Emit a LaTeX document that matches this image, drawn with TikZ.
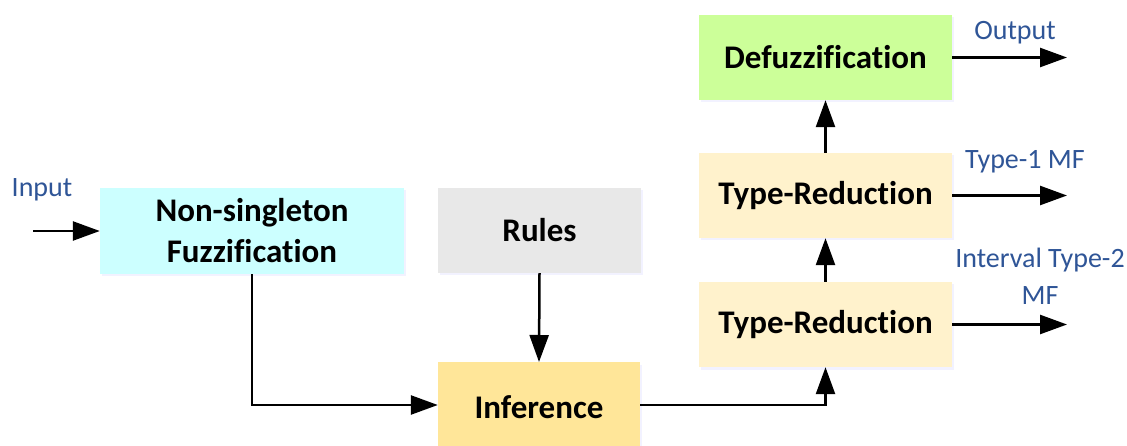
\documentclass[tikz,border=0pt]{standalone}
\usepackage{fontspec}
\setmainfont{Carlito}[Ligatures=NoCommon]
\usetikzlibrary{arrows.meta,shadows}
\definecolor{cyanbox}{HTML}{CCFFFF}
\definecolor{graybox}{HTML}{E8E8E8}
\definecolor{infbox}{HTML}{FFE699}
\definecolor{trbox}{HTML}{FFF2CC}
\definecolor{defbox}{HTML}{CCFF99}
\definecolor{lblblue}{HTML}{2F5597}
\tikzset{
  blk/.style={draw=none, inner sep=0pt, align=center, font=\fontsize{33}{41}\selectfont\bfseries,
    drop shadow={opacity=0.25, shadow xshift=1.5pt, shadow yshift=-2.5pt, fill=blue!20}},
  lbl/.style={text=lblblue, font=\fontsize{28}{34}\selectfont, inner sep=0pt, align=center},
  conn/.style={line width=2.5pt, -{Triangle[length=27pt,width=19pt]}},
}
\begin{document}
\begin{tikzpicture}[x=1pt,y=-1pt]
\useasboundingbox[fill=white] (0,0) rectangle (1127,446);
\node[blk, fill=cyanbox, minimum width=304pt, minimum height=86pt] (fuzz) at (252,231) {Non-singleton\\Fuzzification};
\node[blk, fill=graybox, minimum width=203pt, minimum height=85pt] (rules) at (539.5,230.5) {Rules};
\node[blk, fill=infbox, minimum width=202pt, minimum height=90pt, anchor=north] (inf) at (539,362) {Inference};
\node[blk, fill=trbox, minimum width=253pt, minimum height=85pt] (tr2) at (825.5,324.5) {Type-Reduction};
\node[blk, fill=trbox, minimum width=253pt, minimum height=85pt] (tr1) at (825.5,195.5) {Type-Reduction};
\node[blk, fill=defbox, minimum width=253pt, minimum height=85pt] (def) at (825.5,57.5) {Defuzzification};
\coordinate (in) at (33,231);
\coordinate (o1) at (1067,57.5);
\coordinate (o2) at (1067,195.5);
\coordinate (o3) at (1067,324.5);
\coordinate (infy) at (539,405);
\draw[conn] (in) -- (fuzz.west);
\draw[conn] (fuzz.south) |- (inf.west |- infy);
\draw[conn] (rules.south) -- (inf.north);
\draw[conn] (inf.east |- infy) -| (tr2.south);
\draw[conn] (tr2.north) -- (tr1.south);
\draw[conn] (tr1.north) -- (def.south);
\draw[conn] (def.east) -- (o1);
\draw[conn] (tr1.east) -- (o2);
\draw[conn] (tr2.east) -- (o3);
\node[lbl, anchor=base] (linput) at (42,197) {Input};
\node[lbl, anchor=base] (loutput) at (1015,40) {Output};
\node[lbl, anchor=base] (ltype1) at (1025,169) {Type-1 MF};
\node[lbl, anchor=base] (ltype2) at (1040,268) {Interval Type-2};
\node[lbl, anchor=base] (lmf) at (1040,305) {MF};
\end{tikzpicture}
\end{document}
